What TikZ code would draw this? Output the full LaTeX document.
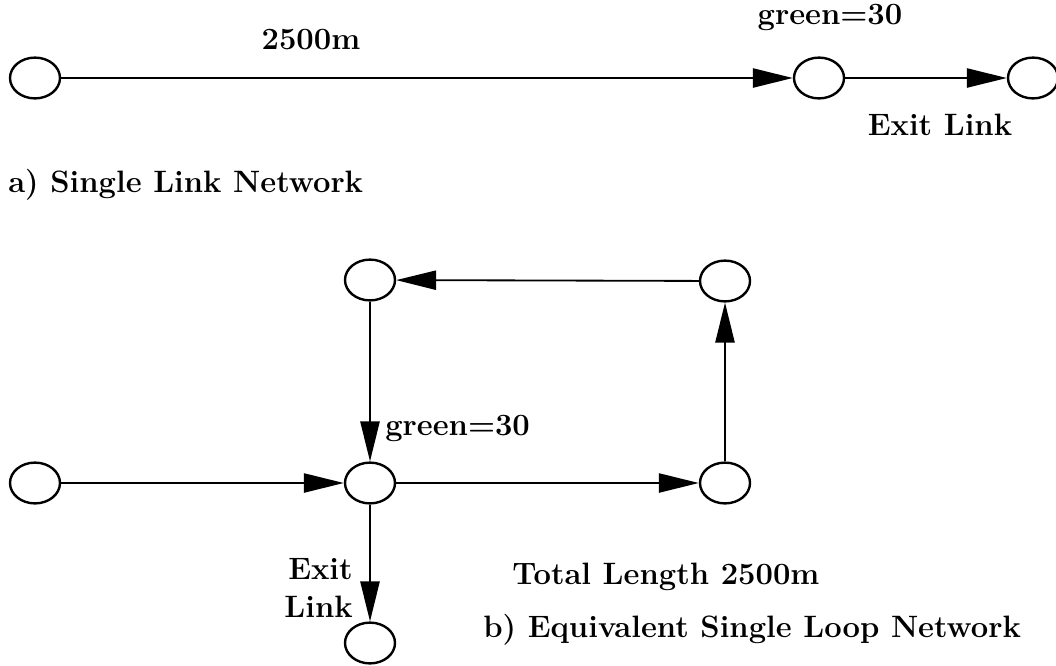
\documentclass[tikz,border=0pt]{standalone}
\usetikzlibrary{arrows.meta, positioning, shapes.geometric}

\begin{document}
\begin{tikzpicture}[x=0.025cm, y=-0.025cm, font=\fontsize{22}{27}\selectfont\bfseries,
    junc/.style={draw, ellipse, line width=1.7pt, minimum width=1.25cm, minimum height=1.02cm, inner sep=0pt},
    ARR/.style={-{Triangle[length=1cm, width=0.48cm]}, line width=1.3pt},
    lbl/.style={inner sep=0pt}]
    \useasboundingbox (0,0) rectangle (1056,665);
    % a) single link network
    \node[junc] (aIn) at (35,78) {};
    \node[junc] (aSig) at (819,78) {};
    \node[junc] (aOut) at (1033,78) {};
    \draw[ARR] (aIn) -- (aSig); \draw[ARR] (aSig) -- (aOut);
    \node[lbl] (aLen) at (311,40) {2500m};
    \node[lbl] (aGrn) at (830,17) {green=30};
    \node[lbl] (aExit) at (940,125) {Exit Link};
    \node[lbl, anchor=west] (aCap) at (8,185) {a) Single Link Network};
    % b) equivalent single loop network
    \node[junc] (bIn) at (35,483) {};
    \node[junc] (bSig) at (370,483) {};
    \node[junc] (bR) at (725,483) {};
    \node[junc] (bTR) at (725,281) {};
    \node[junc] (bTL) at (370,280) {};
    \node[junc] (bOut) at (370,643) {};
    \draw[ARR] (bIn) -- (bSig); \draw[ARR] (bSig) -- (bR); \draw[ARR] (bR) -- (bTR);
    \draw[ARR] (bTR) -- (bTL); \draw[ARR] (bTL) -- (bSig); \draw[ARR] (bSig) -- (bOut);
    \node[lbl, anchor=west] (bGrn) at (385,428) {green=30};
    \node[lbl, anchor=west] (bLen) at (512,577) {Total Length 2500m};
    \node[lbl, anchor=east, align=right] (bExit) at (353,588) {Exit\\Link};
    \node[lbl, anchor=west] (bCap) at (483,630) {b) Equivalent Single Loop Network};
\end{tikzpicture}
\end{document}
